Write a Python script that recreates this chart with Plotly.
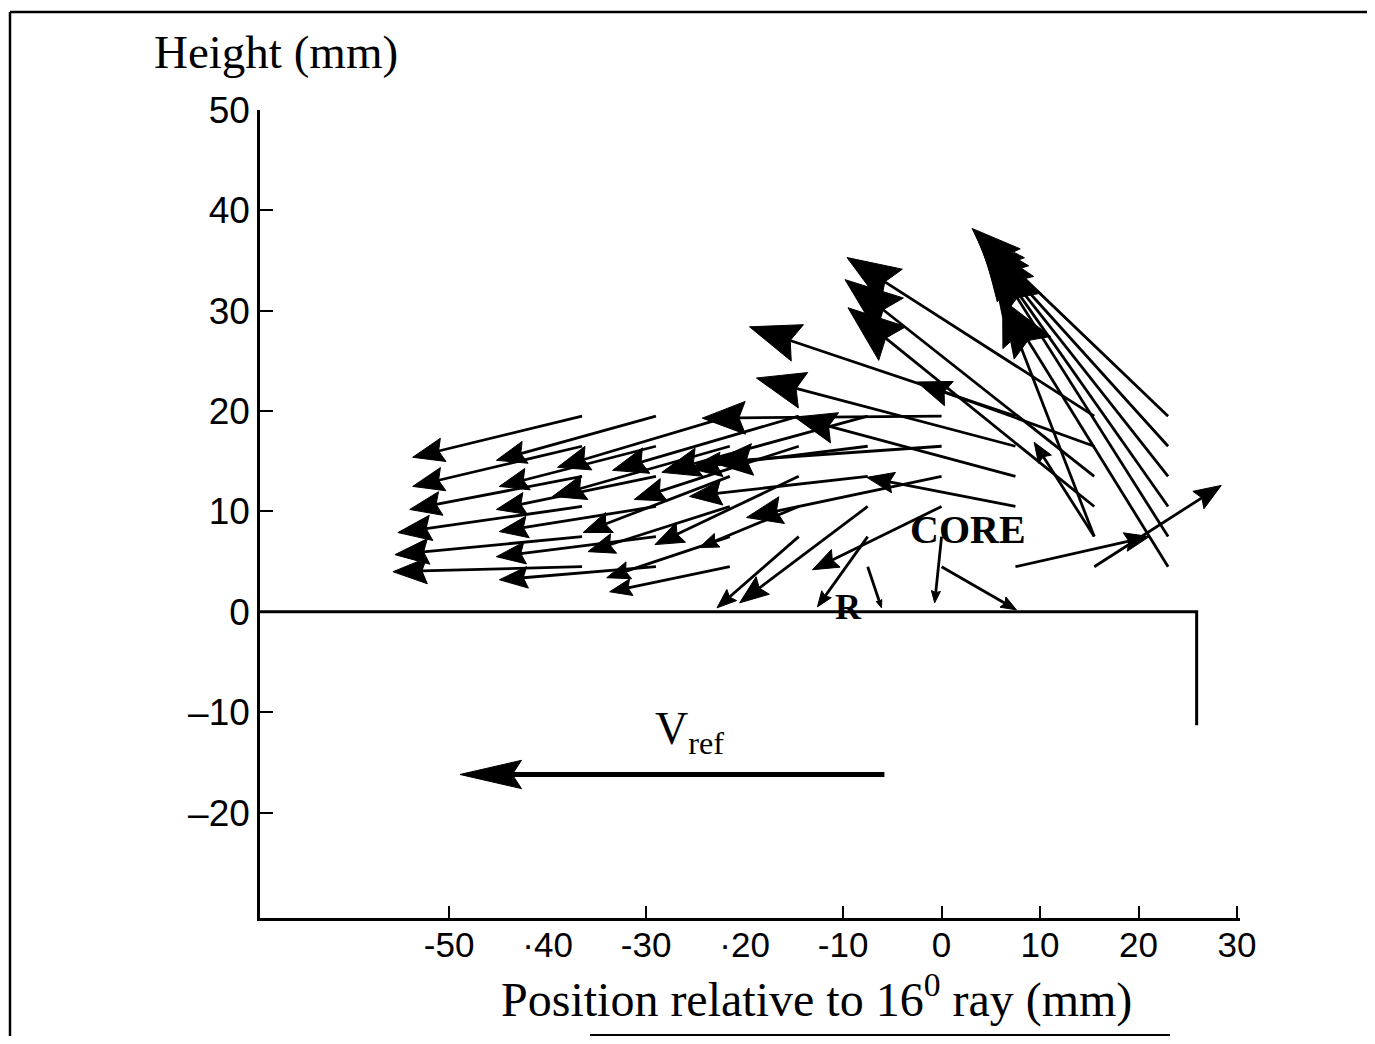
import numpy as np
import plotly.graph_objects as go

# ---- data (mm): velocity vectors, tail = measurement point, head = arrow tip ----
tail_x = [-36.5, -36.5, -36.5, -36.5, -36.5, -36.5,
          -29, -29, -29, -29, -29, -29,
          -21.5, -21.5, -21.5, -21.5, -21.5, -21.5,
          -14.5, -14.5, -14.5, -14.5, -14.5,
          -7.5, -7.5, -7.5, -7.5, -7.5, -7.5,
          0, 0, 0, 0, 0, 0,
          7.5, 7.5, 7.5, 7.5, 7.5,
          15.5, 15.5, 15.5, 15.5, 15.5, 15.5, 15.5,
          23, 23, 23, 23, 23, 23]
tail_y = [19.5, 16.5, 13.5, 10.5, 7.5, 4.5,
          19.5, 16.5, 13.5, 10.5, 7.5, 4.5,
          19.5, 16.5, 13.5, 10.5, 7.5, 4.5,
          19.5, 16.5, 13.5, 10.5, 7.5,
          19.5, 16.5, 13.5, 10.5, 7.5, 4.5,
          19.5, 16.5, 13.5, 10.5, 7.5, 4.5,
          19.5, 16.5, 13.5, 10.5, 4.5,
          19.5, 16.5, 13.5, 10.5, 7.5, 7.5, 4.5,
          19.5, 16.5, 13.5, 10.5, 7.5, 4.5]
head_x = [-53.7, -53.7, -54.0, -55.2, -55.5, -55.7,
          -45.2, -44.9, -45.2, -44.9, -45.2, -44.9,
          -39.0, -39.5, -36.4, -35.9, -34.0, -33.7,
          -33.4, -31.2, -29.1, -24.6, -22.8,
          -28.4, -25.6, -25.6, -20.5, -12.6, -6.1,
          -24.3, -23.4, -19.8, -13.1, -0.7, 7.6,
          -19.5, -18.8, -14.9, -7.6, 21.1,
          -9.6, -2.5, -9.8, -9.5, 9.4, 6.2, 28.4,
          3.1, 3.4, 3.7, 4.1, 4.9, 6.2]
head_y = [15.4, 12.5, 10.2, 7.9, 5.7, 4.0,
          15.1, 12.5, 10.2, 8.0, 5.5, 3.2,
          14.4, 11.5, 7.9, 6.0, 3.4, 2.0,
          14.1, 11.2, 6.7, 6.4, 0.4,
          13.9, 14.3, 11.5, 0.9, 0.5, 0.4,
          19.3, 14.9, 9.4, 4.2, 0.9, 0.2,
          28.4, 23.3, 19.4, 13.4, 7.5,
          35.3, 22.9, 33.1, 30.3, 16.9, 31.1, 12.6,
          38.2, 37.8, 37.5, 36.9, 35.6, 31.1]

# reference velocity arrow and wall outline (mm)
vref_x = [-5.8, -48.9]
vref_y = [-16.2, -16.2]
wall_x = [-69.2, 25.9, 25.9]
wall_y = [0, 0, -11.3]

x_ticks = [-50, -40, -30, -20, -10, 0, 10, 20, 30]
x_tick_text = ["-50", "·40", "-30", "·20", "-10", "0", "10", "20", "30"]
x_tick_marks = [-50, -30, -10, 0, 10, 20, 30]
y_ticks = [50, 40, 30, 20, 10, 0, -10, -20]
y_tick_text = ["50", "40", "30", "20", "10", "0", "–10", "–20"]

# ---- layout geometry (page body has an 8px margin) ----
W, H = 1359, 1028
ML, MR, MT, MB = 252, 127, 102, 118
XR = [-69.2, 30.3]
YR = [-30.5, 50.0]
PW, PH = W - ML - MR, H - MT - MB
sx = PW / (XR[1] - XR[0])   # px per mm
sy = PH / (YR[1] - YR[0])


def px2paper(px, py):
    """screen pixel -> paper coordinates"""
    return (px - 8 - ML) / PW, (H - MB - (py - 8)) / PH


def arrow_geom(x0, y0, x1, y1, frac=0.18, wfrac=0.38):
    dx, dy = (x1 - x0) * sx, (y1 - y0) * sy
    L = np.hypot(dx, dy)
    ux, uy = dx / L, dy / L
    nx, ny = -uy, ux
    h = frac * L
    w = wfrac * h
    bx, by = x1 * sx - ux * h, y1 * sy - uy * h
    nbx, nby = x1 * sx - ux * h * 0.85, y1 * sy - uy * h * 0.85
    tri = [(x1, y1),
           ((bx + nx * w) / sx, (by + ny * w) / sy),
           (nbx / sx, nby / sy),
           ((bx - nx * w) / sx, (by - ny * w) / sy),
           (x1, y1)]
    shaft = [(x0, y0), (nbx / sx, nby / sy)]
    return shaft, tri


lx, ly, hx, hy = [], [], [], []
for x0, y0, x1, y1 in zip(tail_x, tail_y, head_x, head_y):
    shaft, tri = arrow_geom(x0, y0, x1, y1)
    for p in shaft:
        lx.append(p[0]); ly.append(p[1])
    lx.append(None); ly.append(None)
    for p in tri:
        hx.append(p[0]); hy.append(p[1])
    hx.append(None); hy.append(None)

fig = go.Figure()
fig.add_trace(go.Scatter(x=lx, y=ly, mode="lines",
                         line=dict(color="black", width=2.8),
                         hoverinfo="skip", showlegend=False))
fig.add_trace(go.Scatter(x=hx, y=hy, mode="lines", fill="toself",
                         fillcolor="black", line=dict(color="black", width=1),
                         hoverinfo="skip", showlegend=False))

# wall
fig.add_trace(go.Scatter(x=wall_x, y=wall_y, mode="lines",
                         line=dict(color="black", width=3),
                         hoverinfo="skip", showlegend=False))

# V_ref arrow
vshaft, vtri = arrow_geom(vref_x[0], vref_y[0], vref_x[1], vref_y[1],
                          frac=0.145, wfrac=0.23)
fig.add_trace(go.Scatter(x=[p[0] for p in vshaft], y=[p[1] for p in vshaft],
                         mode="lines", line=dict(color="black", width=5),
                         hoverinfo="skip", showlegend=False))
fig.add_trace(go.Scatter(x=[p[0] for p in vtri], y=[p[1] for p in vtri],
                         mode="lines", fill="toself", fillcolor="black",
                         line=dict(color="black", width=1),
                         hoverinfo="skip", showlegend=False))

serif = "Liberation Serif, Times New Roman, serif"
sans = "Liberation Sans, Arial, sans-serif"

fig.update_layout(
    width=W, height=H,
    margin=dict(l=ML, r=MR, t=MT, b=MB),
    paper_bgcolor="white", plot_bgcolor="white",
    showlegend=False,
    xaxis=dict(range=XR, showgrid=False, zeroline=False,
               showline=True, linecolor="black", linewidth=2.5,
               tickmode="array", tickvals=x_ticks, ticktext=x_tick_text,
               ticks="", ticklen=0, ticklabelstandoff=-6,
               minor=dict(tickmode="array", tickvals=x_tick_marks,
                          ticks="inside", ticklen=12, tickwidth=2,
                          tickcolor="black", showgrid=False),
               tickfont=dict(family=sans, size=35, color="black")),
    yaxis=dict(range=YR, showgrid=False, zeroline=False,
               showline=True, linecolor="black", linewidth=2.5,
               tickmode="array", tickvals=y_ticks, ticktext=y_tick_text,
               ticks="inside", ticklen=13, tickwidth=2, tickcolor="black",
               tickfont=dict(family=sans, size=37, color="black")),
)

hx_, hy_ = px2paper(276, 52)
tx_, ty_ = px2paper(816, 996)
annotations = [
    dict(text="Height (mm)", xref="paper", yref="paper", x=hx_, y=hy_,
         showarrow=False, font=dict(family=serif, size=47, color="black"),
         xanchor="center", yanchor="middle"),
    dict(text="Position relative to 16<sup>0</sup> ray (mm)", xref="paper", yref="paper",
         x=tx_, y=ty_, showarrow=False,
         font=dict(family=serif, size=48, color="black"),
         xanchor="center", yanchor="middle"),
    dict(text="V<sub>ref</sub>", xref="x", yref="y", x=-25.6, y=-12.0,
         showarrow=False, font=dict(family=serif, size=46, color="black"),
         xanchor="center", yanchor="middle"),
    dict(text="<b>CORE</b>", xref="x", yref="y", x=2.7, y=8.2,
         showarrow=False, font=dict(family=serif, size=40, color="black"),
         xanchor="center", yanchor="middle"),
    dict(text="<b>R</b>", xref="x", yref="y", x=-9.5, y=0.5,
         showarrow=False, font=dict(family=serif, size=36, color="black"),
         xanchor="center", yanchor="middle"),
]
fig.update_layout(annotations=annotations)

# outer frame of the figure
fl_x, ft_y = px2paper(10, 12)
fr_x, fb_y = px2paper(1380, 1035)
bl_x, _ = px2paper(590, 0)
br_x, _ = px2paper(1170, 0)
frame = dict(color="black", width=2.5)
fig.add_shape(type="line", xref="paper", yref="paper",
              x0=fl_x, x1=fl_x, y0=ft_y, y1=fb_y - 0.02, line=frame)
fig.add_shape(type="line", xref="paper", yref="paper",
              x0=fl_x, x1=fr_x, y0=ft_y, y1=ft_y, line=frame)
fig.add_shape(type="line", xref="paper", yref="paper",
              x0=bl_x, x1=br_x, y0=fb_y, y1=fb_y,
              line=dict(color="black", width=2))

fig.write_html("out.html")
